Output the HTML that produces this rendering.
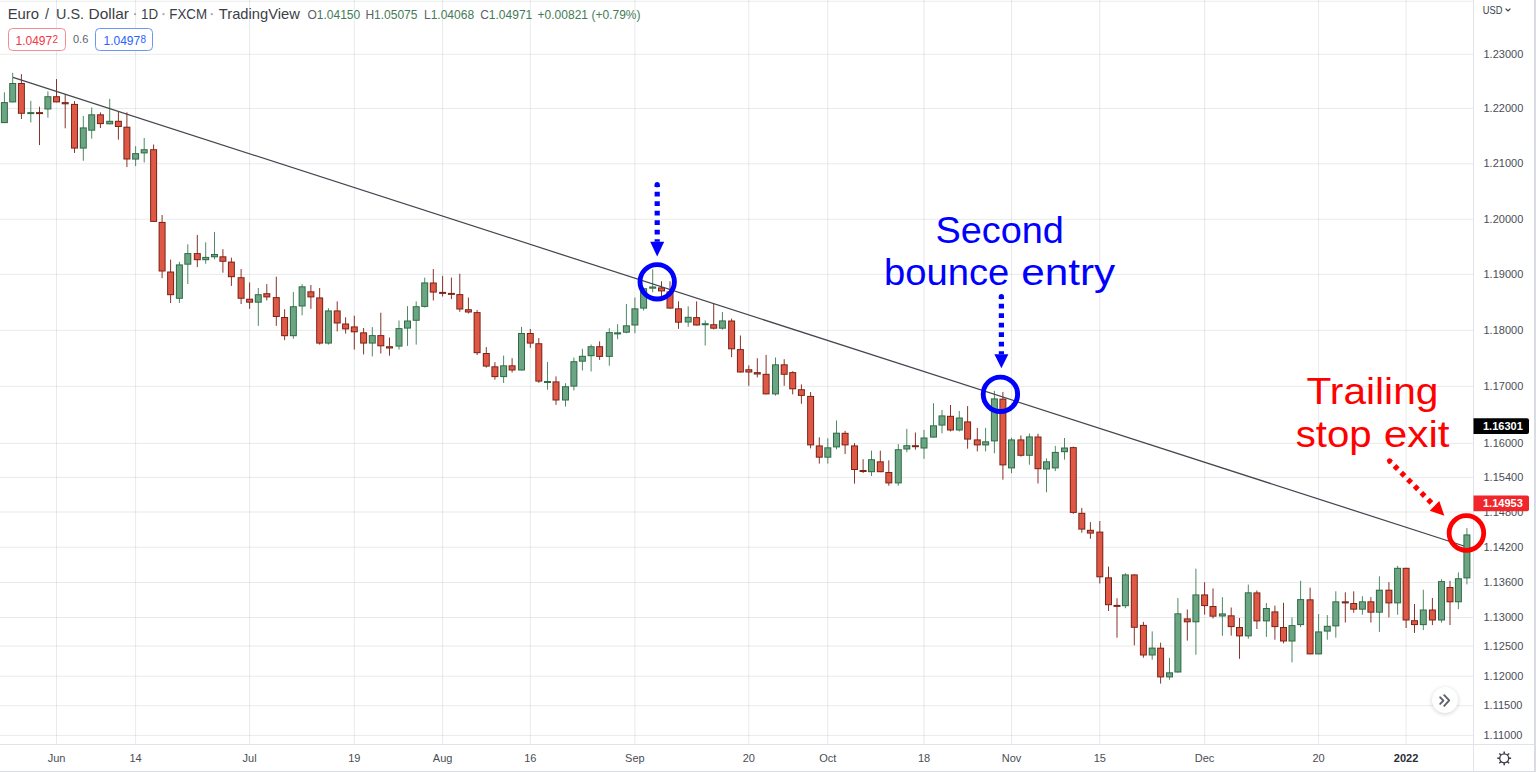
<!DOCTYPE html>
<html><head><meta charset="utf-8"><style>
html,body{margin:0;padding:0;background:#fff;width:1536px;height:772px;overflow:hidden;}
svg{position:absolute;left:0;top:0;}
.ax{font-family:"Liberation Sans",sans-serif;font-size:11px;fill:#4a4d55;}
.b{font-weight:bold;fill:#2a2e39;}
.pl{fill:#fff;font-weight:bold;}
.ttl{font-family:"Liberation Sans",sans-serif;font-size:14.4px;fill:#3b3e46;}
.ann{font-family:"Liberation Sans",sans-serif;font-size:36px;}
.ohlc{top:7.5px;font-size:12px;color:#447a58;}
.hdr{position:absolute;font-family:"Liberation Sans",sans-serif;white-space:nowrap;}
</style></head><body>
<svg width="1536" height="772" viewBox="0 0 1536 772">
<rect x="0" y="0.80" width="1473" height="1" fill="#2a2d3c" fill-opacity="0.1"/>
<rect x="0" y="53.80" width="1473" height="1" fill="#2a2d3c" fill-opacity="0.1"/>
<rect x="0" y="108.00" width="1473" height="1" fill="#2a2d3c" fill-opacity="0.1"/>
<rect x="0" y="163.30" width="1473" height="1" fill="#2a2d3c" fill-opacity="0.1"/>
<rect x="0" y="218.80" width="1473" height="1" fill="#2a2d3c" fill-opacity="0.1"/>
<rect x="0" y="273.90" width="1473" height="1" fill="#2a2d3c" fill-opacity="0.1"/>
<rect x="0" y="329.90" width="1473" height="1" fill="#2a2d3c" fill-opacity="0.1"/>
<rect x="0" y="385.90" width="1473" height="1" fill="#2a2d3c" fill-opacity="0.1"/>
<rect x="0" y="442.90" width="1473" height="1" fill="#2a2d3c" fill-opacity="0.1"/>
<rect x="0" y="476.90" width="1473" height="1" fill="#2a2d3c" fill-opacity="0.1"/>
<rect x="0" y="511.50" width="1473" height="1" fill="#2a2d3c" fill-opacity="0.1"/>
<rect x="0" y="546.70" width="1473" height="1" fill="#2a2d3c" fill-opacity="0.1"/>
<rect x="0" y="582.00" width="1473" height="1" fill="#2a2d3c" fill-opacity="0.1"/>
<rect x="0" y="617.00" width="1473" height="1" fill="#2a2d3c" fill-opacity="0.1"/>
<rect x="0" y="645.50" width="1473" height="1" fill="#2a2d3c" fill-opacity="0.1"/>
<rect x="0" y="675.70" width="1473" height="1" fill="#2a2d3c" fill-opacity="0.1"/>
<rect x="0" y="705.20" width="1473" height="1" fill="#2a2d3c" fill-opacity="0.1"/>
<rect x="0" y="734.90" width="1473" height="1" fill="#2a2d3c" fill-opacity="0.1"/>
<rect x="56.00" y="0" width="1" height="744" fill="#2a2d3c" fill-opacity="0.1"/>
<rect x="135.10" y="0" width="1" height="744" fill="#2a2d3c" fill-opacity="0.1"/>
<rect x="249.10" y="0" width="1" height="744" fill="#2a2d3c" fill-opacity="0.1"/>
<rect x="353.80" y="0" width="1" height="744" fill="#2a2d3c" fill-opacity="0.1"/>
<rect x="442.10" y="0" width="1" height="744" fill="#2a2d3c" fill-opacity="0.1"/>
<rect x="529.80" y="0" width="1" height="744" fill="#2a2d3c" fill-opacity="0.1"/>
<rect x="634.40" y="0" width="1" height="744" fill="#2a2d3c" fill-opacity="0.1"/>
<rect x="748.30" y="0" width="1" height="744" fill="#2a2d3c" fill-opacity="0.1"/>
<rect x="827.30" y="0" width="1" height="744" fill="#2a2d3c" fill-opacity="0.1"/>
<rect x="923.50" y="0" width="1" height="744" fill="#2a2d3c" fill-opacity="0.1"/>
<rect x="1011.00" y="0" width="1" height="744" fill="#2a2d3c" fill-opacity="0.1"/>
<rect x="1099.30" y="0" width="1" height="744" fill="#2a2d3c" fill-opacity="0.1"/>
<rect x="1204.10" y="0" width="1" height="744" fill="#2a2d3c" fill-opacity="0.1"/>
<rect x="1318.10" y="0" width="1" height="744" fill="#2a2d3c" fill-opacity="0.1"/>
<rect x="1405.60" y="0" width="1" height="744" fill="#2a2d3c" fill-opacity="0.1"/>
<rect x="1473" y="0" width="1" height="772" fill="#e0e3eb"/>
<rect x="0" y="744" width="1536" height="1" fill="#e0e3eb"/>
<rect x="1534" y="0" width="2" height="772" fill="#d9dce3"/>
<rect x="0" y="771" width="1536" height="1" fill="#d9dce3"/>
<rect x="3.90" y="92.30" width="1" height="30.80" fill="#4f8a63"/><rect x="0.90" y="102.10" width="7" height="21.00" fill="#2f6b45"/><rect x="1.90" y="103.10" width="5" height="19.00" fill="#6ba583"/>
<rect x="12.20" y="72.80" width="1" height="29.60" fill="#4f8a63"/><rect x="9.20" y="83.00" width="7" height="19.40" fill="#2f6b45"/><rect x="10.20" y="84.00" width="5" height="17.40" fill="#6ba583"/>
<rect x="20.90" y="74.10" width="1" height="44.90" fill="#86352a"/><rect x="17.90" y="83.00" width="7" height="30.80" fill="#7a2417"/><rect x="18.90" y="84.00" width="5" height="28.80" fill="#df5745"/>
<rect x="30.30" y="100.80" width="1" height="21.70" fill="#4f8a63"/><rect x="27.30" y="112.10" width="7" height="2.00" fill="#2f6b45"/>
<rect x="39.00" y="106.70" width="1" height="38.40" fill="#86352a"/><rect x="36.00" y="112.10" width="7" height="2.00" fill="#7a2417"/>
<rect x="47.40" y="91.40" width="1" height="26.30" fill="#4f8a63"/><rect x="44.40" y="96.20" width="7" height="13.30" fill="#2f6b45"/><rect x="45.40" y="97.20" width="5" height="11.30" fill="#6ba583"/>
<rect x="56.00" y="79.10" width="1" height="23.30" fill="#86352a"/><rect x="53.00" y="96.20" width="7" height="6.20" fill="#7a2417"/><rect x="54.00" y="97.20" width="5" height="4.20" fill="#df5745"/>
<rect x="64.70" y="94.00" width="1" height="34.30" fill="#86352a"/><rect x="61.70" y="102.10" width="7" height="2.20" fill="#7a2417"/><rect x="62.70" y="103.10" width="5" height="0.20" fill="#df5745"/>
<rect x="74.00" y="101.10" width="1" height="51.80" fill="#86352a"/><rect x="71.00" y="103.90" width="7" height="44.70" fill="#7a2417"/><rect x="72.00" y="104.90" width="5" height="42.70" fill="#df5745"/>
<rect x="82.80" y="116.00" width="1" height="44.70" fill="#4f8a63"/><rect x="79.80" y="127.40" width="7" height="21.20" fill="#2f6b45"/><rect x="80.80" y="128.40" width="5" height="19.20" fill="#6ba583"/>
<rect x="91.20" y="107.50" width="1" height="31.20" fill="#4f8a63"/><rect x="88.20" y="114.30" width="7" height="16.40" fill="#2f6b45"/><rect x="89.20" y="115.30" width="5" height="14.40" fill="#6ba583"/>
<rect x="99.90" y="112.40" width="1" height="15.60" fill="#86352a"/><rect x="96.90" y="114.30" width="7" height="9.80" fill="#7a2417"/><rect x="97.90" y="115.30" width="5" height="7.80" fill="#df5745"/>
<rect x="109.20" y="98.90" width="1" height="25.40" fill="#4f8a63"/><rect x="106.20" y="120.80" width="7" height="3.50" fill="#2f6b45"/><rect x="107.20" y="121.80" width="5" height="1.50" fill="#6ba583"/>
<rect x="117.90" y="111.50" width="1" height="28.20" fill="#86352a"/><rect x="114.90" y="120.80" width="7" height="6.20" fill="#7a2417"/><rect x="115.90" y="121.80" width="5" height="4.20" fill="#df5745"/>
<rect x="126.40" y="112.40" width="1" height="54.70" fill="#86352a"/><rect x="123.40" y="126.70" width="7" height="32.80" fill="#7a2417"/><rect x="124.40" y="127.70" width="5" height="30.80" fill="#df5745"/>
<rect x="135.10" y="146.20" width="1" height="19.90" fill="#4f8a63"/><rect x="132.10" y="153.10" width="7" height="6.50" fill="#2f6b45"/><rect x="133.10" y="154.10" width="5" height="4.50" fill="#6ba583"/>
<rect x="143.70" y="138.00" width="1" height="24.50" fill="#4f8a63"/><rect x="140.70" y="149.20" width="7" height="4.20" fill="#2f6b45"/><rect x="141.70" y="150.20" width="5" height="2.20" fill="#6ba583"/>
<rect x="153.10" y="144.50" width="1" height="77.40" fill="#86352a"/><rect x="150.10" y="149.20" width="7" height="72.70" fill="#7a2417"/><rect x="151.10" y="150.20" width="5" height="70.70" fill="#df5745"/>
<rect x="161.60" y="215.00" width="1" height="63.20" fill="#86352a"/><rect x="158.60" y="221.90" width="7" height="49.60" fill="#7a2417"/><rect x="159.60" y="222.90" width="5" height="47.60" fill="#df5745"/>
<rect x="170.10" y="259.60" width="1" height="43.40" fill="#86352a"/><rect x="167.10" y="271.50" width="7" height="23.70" fill="#7a2417"/><rect x="168.10" y="272.50" width="5" height="21.70" fill="#df5745"/>
<rect x="178.90" y="261.80" width="1" height="41.20" fill="#4f8a63"/><rect x="175.90" y="264.40" width="7" height="34.40" fill="#2f6b45"/><rect x="176.90" y="265.40" width="5" height="32.40" fill="#6ba583"/>
<rect x="187.30" y="244.30" width="1" height="39.70" fill="#4f8a63"/><rect x="184.30" y="253.10" width="7" height="11.60" fill="#2f6b45"/><rect x="185.30" y="254.10" width="5" height="9.60" fill="#6ba583"/>
<rect x="196.80" y="234.90" width="1" height="32.20" fill="#86352a"/><rect x="193.80" y="253.10" width="7" height="7.10" fill="#7a2417"/><rect x="194.80" y="254.10" width="5" height="5.10" fill="#df5745"/>
<rect x="205.20" y="242.30" width="1" height="21.50" fill="#4f8a63"/><rect x="202.20" y="256.90" width="7" height="3.30" fill="#2f6b45"/><rect x="203.20" y="257.90" width="5" height="1.30" fill="#6ba583"/>
<rect x="214.00" y="231.90" width="1" height="27.30" fill="#4f8a63"/><rect x="211.00" y="254.00" width="7" height="3.30" fill="#2f6b45"/><rect x="212.00" y="255.00" width="5" height="1.30" fill="#6ba583"/>
<rect x="222.40" y="249.20" width="1" height="23.50" fill="#86352a"/><rect x="219.40" y="256.30" width="7" height="5.50" fill="#7a2417"/><rect x="220.40" y="257.30" width="5" height="3.50" fill="#df5745"/>
<rect x="230.90" y="257.70" width="1" height="28.20" fill="#86352a"/><rect x="227.90" y="261.60" width="7" height="15.60" fill="#7a2417"/><rect x="228.90" y="262.60" width="5" height="13.60" fill="#df5745"/>
<rect x="240.60" y="269.00" width="1" height="35.00" fill="#86352a"/><rect x="237.60" y="277.20" width="7" height="21.60" fill="#7a2417"/><rect x="238.60" y="278.20" width="5" height="19.60" fill="#df5745"/>
<rect x="249.10" y="282.40" width="1" height="26.40" fill="#86352a"/><rect x="246.10" y="298.70" width="7" height="4.00" fill="#7a2417"/><rect x="247.10" y="299.70" width="5" height="2.00" fill="#df5745"/>
<rect x="257.80" y="288.00" width="1" height="37.80" fill="#4f8a63"/><rect x="254.80" y="294.20" width="7" height="8.50" fill="#2f6b45"/><rect x="255.80" y="295.20" width="5" height="6.50" fill="#6ba583"/>
<rect x="266.30" y="284.10" width="1" height="16.30" fill="#86352a"/><rect x="263.30" y="293.20" width="7" height="4.20" fill="#7a2417"/><rect x="264.30" y="294.20" width="5" height="2.20" fill="#df5745"/>
<rect x="275.80" y="276.70" width="1" height="49.10" fill="#86352a"/><rect x="272.80" y="297.10" width="7" height="19.90" fill="#7a2417"/><rect x="273.80" y="298.10" width="5" height="17.90" fill="#df5745"/>
<rect x="284.10" y="309.20" width="1" height="30.90" fill="#86352a"/><rect x="281.10" y="317.00" width="7" height="19.20" fill="#7a2417"/><rect x="282.10" y="318.00" width="5" height="17.20" fill="#df5745"/>
<rect x="292.86" y="291.90" width="1" height="46.90" fill="#4f8a63"/><rect x="289.86" y="306.20" width="7" height="30.00" fill="#2f6b45"/><rect x="290.86" y="307.20" width="5" height="28.00" fill="#6ba583"/>
<rect x="301.62" y="284.10" width="1" height="31.20" fill="#4f8a63"/><rect x="298.62" y="286.30" width="7" height="20.20" fill="#2f6b45"/><rect x="299.62" y="287.30" width="5" height="18.20" fill="#6ba583"/>
<rect x="310.39" y="285.00" width="1" height="23.80" fill="#86352a"/><rect x="307.39" y="291.30" width="7" height="6.10" fill="#7a2417"/><rect x="308.39" y="292.30" width="5" height="4.10" fill="#df5745"/>
<rect x="319.15" y="288.00" width="1" height="56.60" fill="#86352a"/><rect x="316.15" y="297.40" width="7" height="46.20" fill="#7a2417"/><rect x="317.15" y="298.40" width="5" height="44.20" fill="#df5745"/>
<rect x="327.91" y="308.20" width="1" height="36.40" fill="#4f8a63"/><rect x="324.91" y="310.40" width="7" height="33.20" fill="#2f6b45"/><rect x="325.91" y="311.40" width="5" height="31.20" fill="#6ba583"/>
<rect x="336.70" y="301.40" width="1" height="30.00" fill="#86352a"/><rect x="333.70" y="310.40" width="7" height="13.10" fill="#7a2417"/><rect x="334.70" y="311.40" width="5" height="11.10" fill="#df5745"/>
<rect x="345.10" y="317.30" width="1" height="16.30" fill="#86352a"/><rect x="342.10" y="323.50" width="7" height="5.90" fill="#7a2417"/><rect x="343.10" y="324.50" width="5" height="3.90" fill="#df5745"/>
<rect x="353.80" y="315.70" width="1" height="33.90" fill="#86352a"/><rect x="350.80" y="326.40" width="7" height="5.90" fill="#7a2417"/><rect x="351.80" y="327.40" width="5" height="3.90" fill="#df5745"/>
<rect x="363.10" y="328.00" width="1" height="26.40" fill="#86352a"/><rect x="360.10" y="332.30" width="7" height="11.30" fill="#7a2417"/><rect x="361.10" y="333.30" width="5" height="9.30" fill="#df5745"/>
<rect x="371.80" y="327.10" width="1" height="29.30" fill="#4f8a63"/><rect x="368.80" y="335.10" width="7" height="8.50" fill="#2f6b45"/><rect x="369.80" y="336.10" width="5" height="6.50" fill="#6ba583"/>
<rect x="380.30" y="312.70" width="1" height="40.80" fill="#86352a"/><rect x="377.30" y="335.10" width="7" height="11.20" fill="#7a2417"/><rect x="378.30" y="336.10" width="5" height="9.20" fill="#df5745"/>
<rect x="389.00" y="337.50" width="1" height="18.20" fill="#86352a"/><rect x="386.00" y="346.20" width="7" height="2.30" fill="#7a2417"/><rect x="387.00" y="347.20" width="5" height="0.30" fill="#df5745"/>
<rect x="398.50" y="320.50" width="1" height="29.10" fill="#4f8a63"/><rect x="395.50" y="328.10" width="7" height="18.50" fill="#2f6b45"/><rect x="396.50" y="329.10" width="5" height="16.50" fill="#6ba583"/>
<rect x="407.00" y="306.20" width="1" height="39.70" fill="#4f8a63"/><rect x="404.00" y="320.50" width="7" height="8.10" fill="#2f6b45"/><rect x="405.00" y="321.50" width="5" height="6.10" fill="#6ba583"/>
<rect x="415.70" y="301.40" width="1" height="43.20" fill="#4f8a63"/><rect x="412.70" y="306.20" width="7" height="14.60" fill="#2f6b45"/><rect x="413.70" y="307.20" width="5" height="12.60" fill="#6ba583"/>
<rect x="424.20" y="277.60" width="1" height="29.90" fill="#4f8a63"/><rect x="421.20" y="282.40" width="7" height="24.50" fill="#2f6b45"/><rect x="422.20" y="283.40" width="5" height="22.50" fill="#6ba583"/>
<rect x="432.80" y="269.10" width="1" height="31.30" fill="#86352a"/><rect x="429.80" y="282.50" width="7" height="10.10" fill="#7a2417"/><rect x="430.80" y="283.50" width="5" height="8.10" fill="#df5745"/>
<rect x="442.10" y="275.90" width="1" height="20.60" fill="#86352a"/><rect x="439.10" y="291.90" width="7" height="2.00" fill="#7a2417"/>
<rect x="450.90" y="277.60" width="1" height="21.50" fill="#86352a"/><rect x="447.90" y="292.90" width="7" height="2.00" fill="#7a2417"/>
<rect x="459.30" y="273.70" width="1" height="38.10" fill="#86352a"/><rect x="456.30" y="294.10" width="7" height="15.40" fill="#7a2417"/><rect x="457.30" y="295.10" width="5" height="13.40" fill="#df5745"/>
<rect x="467.90" y="297.50" width="1" height="16.00" fill="#86352a"/><rect x="464.90" y="309.20" width="7" height="3.30" fill="#7a2417"/><rect x="465.90" y="310.20" width="5" height="1.30" fill="#df5745"/>
<rect x="476.60" y="310.10" width="1" height="44.90" fill="#86352a"/><rect x="473.60" y="312.10" width="7" height="41.10" fill="#7a2417"/><rect x="474.60" y="313.10" width="5" height="39.10" fill="#df5745"/>
<rect x="485.80" y="347.10" width="1" height="20.50" fill="#86352a"/><rect x="482.80" y="353.00" width="7" height="13.60" fill="#7a2417"/><rect x="483.80" y="354.00" width="5" height="11.60" fill="#df5745"/>
<rect x="494.40" y="362.10" width="1" height="17.60" fill="#86352a"/><rect x="491.40" y="366.30" width="7" height="10.80" fill="#7a2417"/><rect x="492.40" y="367.30" width="5" height="8.80" fill="#df5745"/>
<rect x="503.10" y="355.60" width="1" height="27.30" fill="#4f8a63"/><rect x="500.10" y="365.30" width="7" height="11.80" fill="#2f6b45"/><rect x="501.10" y="366.30" width="5" height="9.80" fill="#6ba583"/>
<rect x="511.60" y="358.20" width="1" height="14.30" fill="#86352a"/><rect x="508.60" y="365.30" width="7" height="5.20" fill="#7a2417"/><rect x="509.60" y="366.30" width="5" height="3.20" fill="#df5745"/>
<rect x="521.00" y="326.90" width="1" height="43.60" fill="#4f8a63"/><rect x="518.00" y="333.00" width="7" height="37.50" fill="#2f6b45"/><rect x="519.00" y="334.00" width="5" height="35.50" fill="#6ba583"/>
<rect x="529.80" y="328.90" width="1" height="18.90" fill="#86352a"/><rect x="526.80" y="333.00" width="7" height="10.60" fill="#7a2417"/><rect x="527.80" y="334.00" width="5" height="8.60" fill="#df5745"/>
<rect x="538.30" y="338.00" width="1" height="44.90" fill="#86352a"/><rect x="535.30" y="343.20" width="7" height="38.40" fill="#7a2417"/><rect x="536.30" y="344.20" width="5" height="36.40" fill="#df5745"/>
<rect x="547.00" y="362.10" width="1" height="27.60" fill="#4f8a63"/><rect x="544.00" y="381.00" width="7" height="2.00" fill="#2f6b45"/>
<rect x="555.50" y="376.40" width="1" height="28.40" fill="#86352a"/><rect x="552.50" y="381.40" width="7" height="19.10" fill="#7a2417"/><rect x="553.50" y="382.40" width="5" height="17.10" fill="#df5745"/>
<rect x="565.00" y="383.20" width="1" height="23.40" fill="#4f8a63"/><rect x="562.00" y="386.20" width="7" height="14.30" fill="#2f6b45"/><rect x="563.00" y="387.20" width="5" height="12.30" fill="#6ba583"/>
<rect x="573.40" y="357.50" width="1" height="33.00" fill="#4f8a63"/><rect x="570.40" y="361.20" width="7" height="25.40" fill="#2f6b45"/><rect x="571.40" y="362.20" width="5" height="23.40" fill="#6ba583"/>
<rect x="581.90" y="348.80" width="1" height="21.70" fill="#4f8a63"/><rect x="578.90" y="355.80" width="7" height="5.90" fill="#2f6b45"/><rect x="579.90" y="356.80" width="5" height="3.90" fill="#6ba583"/>
<rect x="590.60" y="344.50" width="1" height="27.00" fill="#4f8a63"/><rect x="587.60" y="346.20" width="7" height="10.00" fill="#2f6b45"/><rect x="588.60" y="347.20" width="5" height="8.00" fill="#6ba583"/>
<rect x="599.10" y="341.30" width="1" height="18.60" fill="#86352a"/><rect x="596.10" y="346.20" width="7" height="10.70" fill="#7a2417"/><rect x="597.10" y="347.20" width="5" height="8.70" fill="#df5745"/>
<rect x="608.80" y="328.20" width="1" height="37.50" fill="#4f8a63"/><rect x="605.80" y="332.10" width="7" height="24.80" fill="#2f6b45"/><rect x="606.80" y="333.10" width="5" height="22.80" fill="#6ba583"/>
<rect x="617.10" y="324.20" width="1" height="15.00" fill="#4f8a63"/><rect x="614.10" y="332.30" width="7" height="2.10" fill="#2f6b45"/><rect x="615.10" y="333.30" width="5" height="0.10" fill="#6ba583"/>
<rect x="625.90" y="304.00" width="1" height="29.30" fill="#4f8a63"/><rect x="622.90" y="325.30" width="7" height="7.40" fill="#2f6b45"/><rect x="623.90" y="326.30" width="5" height="5.40" fill="#6ba583"/>
<rect x="634.40" y="297.50" width="1" height="35.80" fill="#4f8a63"/><rect x="631.40" y="308.30" width="7" height="17.20" fill="#2f6b45"/><rect x="632.40" y="309.30" width="5" height="15.20" fill="#6ba583"/>
<rect x="643.10" y="287.80" width="1" height="22.70" fill="#4f8a63"/><rect x="640.10" y="288.20" width="7" height="20.40" fill="#2f6b45"/><rect x="641.10" y="289.20" width="5" height="18.40" fill="#6ba583"/>
<rect x="652.20" y="269.30" width="1" height="23.00" fill="#4f8a63"/><rect x="649.20" y="286.50" width="7" height="2.20" fill="#2f6b45"/><rect x="650.20" y="287.50" width="5" height="0.20" fill="#6ba583"/>
<rect x="661.00" y="281.30" width="1" height="15.60" fill="#86352a"/><rect x="658.00" y="287.40" width="7" height="4.00" fill="#7a2417"/><rect x="659.00" y="288.40" width="5" height="2.00" fill="#df5745"/>
<rect x="669.50" y="281.30" width="1" height="27.30" fill="#86352a"/><rect x="666.50" y="291.40" width="7" height="17.20" fill="#7a2417"/><rect x="667.50" y="292.40" width="5" height="15.20" fill="#df5745"/>
<rect x="678.00" y="301.40" width="1" height="27.40" fill="#86352a"/><rect x="675.00" y="308.30" width="7" height="14.40" fill="#7a2417"/><rect x="676.00" y="309.30" width="5" height="12.40" fill="#df5745"/>
<rect x="687.70" y="306.30" width="1" height="20.50" fill="#4f8a63"/><rect x="684.70" y="316.80" width="7" height="5.70" fill="#2f6b45"/><rect x="685.70" y="317.80" width="5" height="3.70" fill="#6ba583"/>
<rect x="696.10" y="301.40" width="1" height="24.10" fill="#86352a"/><rect x="693.10" y="317.10" width="7" height="8.40" fill="#7a2417"/><rect x="694.10" y="318.10" width="5" height="6.40" fill="#df5745"/>
<rect x="704.70" y="320.40" width="1" height="25.10" fill="#4f8a63"/><rect x="701.70" y="323.20" width="7" height="2.00" fill="#2f6b45"/>
<rect x="713.20" y="303.40" width="1" height="26.00" fill="#86352a"/><rect x="710.20" y="324.20" width="7" height="4.50" fill="#7a2417"/><rect x="711.20" y="325.20" width="5" height="2.50" fill="#df5745"/>
<rect x="721.90" y="312.00" width="1" height="17.60" fill="#4f8a63"/><rect x="718.90" y="320.40" width="7" height="8.30" fill="#2f6b45"/><rect x="719.90" y="321.40" width="5" height="6.30" fill="#6ba583"/>
<rect x="731.10" y="318.60" width="1" height="38.50" fill="#86352a"/><rect x="728.10" y="320.50" width="7" height="28.80" fill="#7a2417"/><rect x="729.10" y="321.50" width="5" height="26.80" fill="#df5745"/>
<rect x="739.90" y="335.50" width="1" height="37.00" fill="#86352a"/><rect x="736.90" y="349.10" width="7" height="23.40" fill="#7a2417"/><rect x="737.90" y="350.10" width="5" height="21.40" fill="#df5745"/>
<rect x="748.30" y="365.30" width="1" height="20.50" fill="#86352a"/><rect x="745.30" y="369.20" width="7" height="3.30" fill="#7a2417"/><rect x="746.30" y="370.20" width="5" height="1.30" fill="#df5745"/>
<rect x="756.80" y="358.20" width="1" height="19.20" fill="#86352a"/><rect x="753.80" y="372.10" width="7" height="2.40" fill="#7a2417"/><rect x="754.80" y="373.10" width="5" height="0.40" fill="#df5745"/>
<rect x="765.60" y="354.90" width="1" height="39.50" fill="#86352a"/><rect x="762.60" y="373.80" width="7" height="20.60" fill="#7a2417"/><rect x="763.60" y="374.80" width="5" height="18.60" fill="#df5745"/>
<rect x="775.00" y="357.50" width="1" height="38.20" fill="#4f8a63"/><rect x="772.00" y="364.30" width="7" height="30.10" fill="#2f6b45"/><rect x="773.00" y="365.30" width="5" height="28.10" fill="#6ba583"/>
<rect x="783.70" y="359.20" width="1" height="26.60" fill="#86352a"/><rect x="780.70" y="364.30" width="7" height="10.50" fill="#7a2417"/><rect x="781.70" y="365.30" width="5" height="8.50" fill="#df5745"/>
<rect x="792.20" y="371.20" width="1" height="23.20" fill="#86352a"/><rect x="789.20" y="372.10" width="7" height="17.20" fill="#7a2417"/><rect x="790.20" y="373.10" width="5" height="15.20" fill="#df5745"/>
<rect x="800.90" y="384.40" width="1" height="19.40" fill="#86352a"/><rect x="797.90" y="389.20" width="7" height="6.70" fill="#7a2417"/><rect x="798.90" y="390.20" width="5" height="4.70" fill="#df5745"/>
<rect x="810.10" y="392.00" width="1" height="56.40" fill="#86352a"/><rect x="807.10" y="395.90" width="7" height="49.50" fill="#7a2417"/><rect x="808.10" y="396.90" width="5" height="47.50" fill="#df5745"/>
<rect x="818.80" y="437.30" width="1" height="26.30" fill="#86352a"/><rect x="815.80" y="445.40" width="7" height="12.30" fill="#7a2417"/><rect x="816.80" y="446.40" width="5" height="10.30" fill="#df5745"/>
<rect x="827.30" y="438.30" width="1" height="25.30" fill="#4f8a63"/><rect x="824.30" y="447.30" width="7" height="10.40" fill="#2f6b45"/><rect x="825.30" y="448.30" width="5" height="8.40" fill="#6ba583"/>
<rect x="836.00" y="420.40" width="1" height="28.90" fill="#4f8a63"/><rect x="833.00" y="432.70" width="7" height="14.70" fill="#2f6b45"/><rect x="834.00" y="433.70" width="5" height="12.70" fill="#6ba583"/>
<rect x="844.60" y="430.80" width="1" height="23.30" fill="#86352a"/><rect x="841.60" y="432.80" width="7" height="12.60" fill="#7a2417"/><rect x="842.60" y="433.80" width="5" height="10.60" fill="#df5745"/>
<rect x="854.00" y="443.10" width="1" height="40.50" fill="#86352a"/><rect x="851.00" y="445.40" width="7" height="24.60" fill="#7a2417"/><rect x="852.00" y="446.40" width="5" height="22.60" fill="#df5745"/>
<rect x="862.60" y="459.20" width="1" height="13.80" fill="#86352a"/><rect x="859.60" y="470.00" width="7" height="2.00" fill="#7a2417"/>
<rect x="871.00" y="450.60" width="1" height="25.40" fill="#4f8a63"/><rect x="868.00" y="459.20" width="7" height="13.00" fill="#2f6b45"/><rect x="869.00" y="460.20" width="5" height="11.00" fill="#6ba583"/>
<rect x="879.80" y="450.60" width="1" height="21.60" fill="#86352a"/><rect x="876.80" y="461.30" width="7" height="10.90" fill="#7a2417"/><rect x="877.80" y="462.30" width="5" height="8.90" fill="#df5745"/>
<rect x="888.30" y="460.30" width="1" height="25.40" fill="#86352a"/><rect x="885.30" y="472.00" width="7" height="11.40" fill="#7a2417"/><rect x="886.30" y="473.00" width="5" height="9.40" fill="#df5745"/>
<rect x="897.80" y="444.10" width="1" height="41.60" fill="#4f8a63"/><rect x="894.80" y="449.20" width="7" height="34.20" fill="#2f6b45"/><rect x="895.80" y="450.20" width="5" height="32.20" fill="#6ba583"/>
<rect x="906.30" y="428.80" width="1" height="23.40" fill="#4f8a63"/><rect x="903.30" y="445.20" width="7" height="4.30" fill="#2f6b45"/><rect x="904.30" y="446.20" width="5" height="2.30" fill="#6ba583"/>
<rect x="914.90" y="432.50" width="1" height="17.10" fill="#86352a"/><rect x="911.90" y="445.20" width="7" height="2.00" fill="#7a2417"/>
<rect x="923.50" y="429.90" width="1" height="29.00" fill="#4f8a63"/><rect x="920.50" y="437.50" width="7" height="11.00" fill="#2f6b45"/><rect x="921.50" y="438.50" width="5" height="9.00" fill="#6ba583"/>
<rect x="933.00" y="403.20" width="1" height="34.40" fill="#4f8a63"/><rect x="930.00" y="425.30" width="7" height="12.30" fill="#2f6b45"/><rect x="931.00" y="426.30" width="5" height="10.30" fill="#6ba583"/>
<rect x="941.50" y="410.00" width="1" height="23.40" fill="#4f8a63"/><rect x="938.50" y="415.40" width="7" height="10.20" fill="#2f6b45"/><rect x="939.50" y="416.40" width="5" height="8.20" fill="#6ba583"/>
<rect x="950.00" y="405.00" width="1" height="26.40" fill="#86352a"/><rect x="947.00" y="415.80" width="7" height="14.70" fill="#7a2417"/><rect x="948.00" y="416.80" width="5" height="12.70" fill="#df5745"/>
<rect x="958.80" y="411.00" width="1" height="20.40" fill="#4f8a63"/><rect x="955.80" y="417.50" width="7" height="13.00" fill="#2f6b45"/><rect x="956.80" y="418.50" width="5" height="11.00" fill="#6ba583"/>
<rect x="967.10" y="406.10" width="1" height="42.60" fill="#86352a"/><rect x="964.10" y="421.40" width="7" height="18.20" fill="#7a2417"/><rect x="965.10" y="422.40" width="5" height="16.20" fill="#df5745"/>
<rect x="976.80" y="427.90" width="1" height="23.50" fill="#86352a"/><rect x="973.80" y="439.40" width="7" height="6.00" fill="#7a2417"/><rect x="974.80" y="440.40" width="5" height="4.00" fill="#df5745"/>
<rect x="985.10" y="427.90" width="1" height="23.50" fill="#4f8a63"/><rect x="982.10" y="441.30" width="7" height="4.10" fill="#2f6b45"/><rect x="983.10" y="442.30" width="5" height="2.10" fill="#6ba583"/>
<rect x="993.90" y="390.80" width="1" height="62.50" fill="#4f8a63"/><rect x="990.90" y="398.40" width="7" height="43.00" fill="#2f6b45"/><rect x="991.90" y="399.40" width="5" height="41.00" fill="#6ba583"/>
<rect x="1002.40" y="391.90" width="1" height="87.70" fill="#86352a"/><rect x="999.40" y="398.60" width="7" height="66.80" fill="#7a2417"/><rect x="1000.40" y="399.60" width="5" height="64.80" fill="#df5745"/>
<rect x="1011.00" y="437.70" width="1" height="35.50" fill="#4f8a63"/><rect x="1008.00" y="439.40" width="7" height="29.00" fill="#2f6b45"/><rect x="1009.00" y="440.40" width="5" height="27.00" fill="#6ba583"/>
<rect x="1020.40" y="435.40" width="1" height="21.20" fill="#86352a"/><rect x="1017.40" y="439.40" width="7" height="16.40" fill="#7a2417"/><rect x="1018.40" y="440.40" width="5" height="14.40" fill="#df5745"/>
<rect x="1028.90" y="433.50" width="1" height="31.20" fill="#4f8a63"/><rect x="1025.90" y="436.40" width="7" height="19.40" fill="#2f6b45"/><rect x="1026.90" y="437.40" width="5" height="17.40" fill="#6ba583"/>
<rect x="1037.50" y="433.70" width="1" height="49.80" fill="#86352a"/><rect x="1034.50" y="436.50" width="7" height="32.70" fill="#7a2417"/><rect x="1035.50" y="437.50" width="5" height="30.70" fill="#df5745"/>
<rect x="1046.00" y="458.40" width="1" height="33.90" fill="#4f8a63"/><rect x="1043.00" y="461.30" width="7" height="8.20" fill="#2f6b45"/><rect x="1044.00" y="462.30" width="5" height="6.20" fill="#6ba583"/>
<rect x="1054.80" y="445.90" width="1" height="25.20" fill="#4f8a63"/><rect x="1051.80" y="451.90" width="7" height="16.50" fill="#2f6b45"/><rect x="1052.80" y="452.90" width="5" height="14.50" fill="#6ba583"/>
<rect x="1064.00" y="438.00" width="1" height="21.60" fill="#4f8a63"/><rect x="1061.00" y="447.50" width="7" height="4.70" fill="#2f6b45"/><rect x="1062.00" y="448.50" width="5" height="2.70" fill="#6ba583"/>
<rect x="1072.80" y="446.60" width="1" height="67.20" fill="#86352a"/><rect x="1069.80" y="447.10" width="7" height="65.80" fill="#7a2417"/><rect x="1070.80" y="448.10" width="5" height="63.80" fill="#df5745"/>
<rect x="1081.30" y="507.90" width="1" height="24.80" fill="#86352a"/><rect x="1078.30" y="512.80" width="7" height="16.80" fill="#7a2417"/><rect x="1079.30" y="513.80" width="5" height="14.80" fill="#df5745"/>
<rect x="1089.90" y="522.10" width="1" height="16.60" fill="#86352a"/><rect x="1086.90" y="529.80" width="7" height="3.80" fill="#7a2417"/><rect x="1087.90" y="530.80" width="5" height="1.80" fill="#df5745"/>
<rect x="1099.30" y="521.00" width="1" height="62.50" fill="#86352a"/><rect x="1096.30" y="531.60" width="7" height="45.70" fill="#7a2417"/><rect x="1097.30" y="532.60" width="5" height="43.70" fill="#df5745"/>
<rect x="1108.00" y="566.60" width="1" height="44.40" fill="#86352a"/><rect x="1105.00" y="577.30" width="7" height="27.90" fill="#7a2417"/><rect x="1106.00" y="578.30" width="5" height="25.90" fill="#df5745"/>
<rect x="1116.50" y="598.20" width="1" height="39.50" fill="#86352a"/><rect x="1113.50" y="604.90" width="7" height="2.00" fill="#7a2417"/>
<rect x="1124.90" y="573.20" width="1" height="35.00" fill="#4f8a63"/><rect x="1121.90" y="574.40" width="7" height="31.80" fill="#2f6b45"/><rect x="1122.90" y="575.40" width="5" height="29.80" fill="#6ba583"/>
<rect x="1133.80" y="574.20" width="1" height="71.10" fill="#86352a"/><rect x="1130.80" y="574.40" width="7" height="53.40" fill="#7a2417"/><rect x="1131.80" y="575.40" width="5" height="51.40" fill="#df5745"/>
<rect x="1142.90" y="621.90" width="1" height="35.80" fill="#86352a"/><rect x="1139.90" y="624.90" width="7" height="30.60" fill="#7a2417"/><rect x="1140.90" y="625.90" width="5" height="28.60" fill="#df5745"/>
<rect x="1151.70" y="631.40" width="1" height="28.30" fill="#4f8a63"/><rect x="1148.70" y="647.60" width="7" height="7.90" fill="#2f6b45"/><rect x="1149.70" y="648.60" width="5" height="5.90" fill="#6ba583"/>
<rect x="1160.10" y="642.70" width="1" height="40.90" fill="#86352a"/><rect x="1157.10" y="647.70" width="7" height="29.70" fill="#7a2417"/><rect x="1158.10" y="648.70" width="5" height="27.70" fill="#df5745"/>
<rect x="1169.00" y="658.00" width="1" height="21.70" fill="#4f8a63"/><rect x="1166.00" y="672.30" width="7" height="5.10" fill="#2f6b45"/><rect x="1167.00" y="673.30" width="5" height="3.10" fill="#6ba583"/>
<rect x="1177.40" y="598.10" width="1" height="74.40" fill="#4f8a63"/><rect x="1174.40" y="613.30" width="7" height="59.20" fill="#2f6b45"/><rect x="1175.40" y="614.30" width="5" height="57.20" fill="#6ba583"/>
<rect x="1186.80" y="609.50" width="1" height="31.10" fill="#86352a"/><rect x="1183.80" y="618.40" width="7" height="3.90" fill="#7a2417"/><rect x="1184.80" y="619.40" width="5" height="1.90" fill="#df5745"/>
<rect x="1195.40" y="568.70" width="1" height="86.00" fill="#4f8a63"/><rect x="1192.40" y="594.40" width="7" height="27.90" fill="#2f6b45"/><rect x="1193.40" y="595.40" width="5" height="25.90" fill="#6ba583"/>
<rect x="1204.10" y="582.20" width="1" height="32.50" fill="#86352a"/><rect x="1201.10" y="594.40" width="7" height="11.70" fill="#7a2417"/><rect x="1202.10" y="595.40" width="5" height="9.70" fill="#df5745"/>
<rect x="1212.50" y="588.40" width="1" height="30.10" fill="#86352a"/><rect x="1209.50" y="606.00" width="7" height="10.70" fill="#7a2417"/><rect x="1210.50" y="607.00" width="5" height="8.70" fill="#df5745"/>
<rect x="1221.90" y="597.10" width="1" height="38.70" fill="#4f8a63"/><rect x="1218.90" y="613.40" width="7" height="3.10" fill="#2f6b45"/><rect x="1219.90" y="614.40" width="5" height="1.10" fill="#6ba583"/>
<rect x="1230.70" y="607.50" width="1" height="28.20" fill="#86352a"/><rect x="1227.70" y="615.30" width="7" height="11.80" fill="#7a2417"/><rect x="1228.70" y="616.30" width="5" height="9.80" fill="#df5745"/>
<rect x="1239.00" y="618.00" width="1" height="40.80" fill="#86352a"/><rect x="1236.00" y="627.00" width="7" height="9.40" fill="#7a2417"/><rect x="1237.00" y="628.00" width="5" height="7.40" fill="#df5745"/>
<rect x="1247.80" y="584.60" width="1" height="54.10" fill="#4f8a63"/><rect x="1244.80" y="592.30" width="7" height="44.10" fill="#2f6b45"/><rect x="1245.80" y="593.30" width="5" height="42.10" fill="#6ba583"/>
<rect x="1256.40" y="590.40" width="1" height="38.60" fill="#86352a"/><rect x="1253.40" y="592.40" width="7" height="29.00" fill="#7a2417"/><rect x="1254.40" y="593.40" width="5" height="27.00" fill="#df5745"/>
<rect x="1265.90" y="603.00" width="1" height="33.90" fill="#4f8a63"/><rect x="1262.90" y="608.00" width="7" height="13.40" fill="#2f6b45"/><rect x="1263.90" y="609.00" width="5" height="11.40" fill="#6ba583"/>
<rect x="1274.40" y="605.60" width="1" height="34.10" fill="#86352a"/><rect x="1271.40" y="611.40" width="7" height="15.70" fill="#7a2417"/><rect x="1272.40" y="612.40" width="5" height="13.70" fill="#df5745"/>
<rect x="1283.00" y="602.80" width="1" height="40.50" fill="#86352a"/><rect x="1280.00" y="627.00" width="7" height="14.50" fill="#7a2417"/><rect x="1281.00" y="628.00" width="5" height="12.50" fill="#df5745"/>
<rect x="1291.50" y="617.30" width="1" height="45.00" fill="#4f8a63"/><rect x="1288.50" y="625.10" width="7" height="16.40" fill="#2f6b45"/><rect x="1289.50" y="626.10" width="5" height="14.40" fill="#6ba583"/>
<rect x="1300.10" y="580.80" width="1" height="46.30" fill="#4f8a63"/><rect x="1297.10" y="599.10" width="7" height="26.00" fill="#2f6b45"/><rect x="1298.10" y="600.10" width="5" height="24.00" fill="#6ba583"/>
<rect x="1309.60" y="587.60" width="1" height="66.80" fill="#86352a"/><rect x="1306.60" y="599.30" width="7" height="55.10" fill="#7a2417"/><rect x="1307.60" y="600.30" width="5" height="53.10" fill="#df5745"/>
<rect x="1318.10" y="614.00" width="1" height="40.40" fill="#4f8a63"/><rect x="1315.10" y="631.40" width="7" height="23.00" fill="#2f6b45"/><rect x="1316.10" y="632.40" width="5" height="21.00" fill="#6ba583"/>
<rect x="1326.80" y="615.10" width="1" height="24.60" fill="#4f8a63"/><rect x="1323.80" y="625.80" width="7" height="5.80" fill="#2f6b45"/><rect x="1324.80" y="626.80" width="5" height="3.80" fill="#6ba583"/>
<rect x="1335.30" y="591.30" width="1" height="46.40" fill="#4f8a63"/><rect x="1332.30" y="601.30" width="7" height="25.10" fill="#2f6b45"/><rect x="1333.30" y="602.30" width="5" height="23.10" fill="#6ba583"/>
<rect x="1344.80" y="592.30" width="1" height="30.20" fill="#86352a"/><rect x="1341.80" y="601.30" width="7" height="2.10" fill="#7a2417"/><rect x="1342.80" y="602.30" width="5" height="0.10" fill="#df5745"/>
<rect x="1353.20" y="591.30" width="1" height="21.40" fill="#86352a"/><rect x="1350.20" y="603.00" width="7" height="6.70" fill="#7a2417"/><rect x="1351.20" y="604.00" width="5" height="4.70" fill="#df5745"/>
<rect x="1361.90" y="596.20" width="1" height="18.50" fill="#4f8a63"/><rect x="1358.90" y="601.30" width="7" height="8.40" fill="#2f6b45"/><rect x="1359.90" y="602.30" width="5" height="6.40" fill="#6ba583"/>
<rect x="1370.40" y="597.10" width="1" height="25.40" fill="#86352a"/><rect x="1367.40" y="601.30" width="7" height="11.40" fill="#7a2417"/><rect x="1368.40" y="602.30" width="5" height="9.40" fill="#df5745"/>
<rect x="1378.90" y="576.30" width="1" height="55.60" fill="#4f8a63"/><rect x="1375.90" y="589.70" width="7" height="23.00" fill="#2f6b45"/><rect x="1376.90" y="590.70" width="5" height="21.00" fill="#6ba583"/>
<rect x="1388.40" y="582.10" width="1" height="35.20" fill="#86352a"/><rect x="1385.40" y="589.70" width="7" height="13.70" fill="#7a2417"/><rect x="1386.40" y="590.70" width="5" height="11.70" fill="#df5745"/>
<rect x="1397.10" y="565.90" width="1" height="48.80" fill="#4f8a63"/><rect x="1394.10" y="567.80" width="7" height="35.60" fill="#2f6b45"/><rect x="1395.10" y="568.80" width="5" height="33.60" fill="#6ba583"/>
<rect x="1405.60" y="567.80" width="1" height="60.20" fill="#86352a"/><rect x="1402.60" y="567.80" width="7" height="52.70" fill="#7a2417"/><rect x="1403.60" y="568.80" width="5" height="50.70" fill="#df5745"/>
<rect x="1414.00" y="604.00" width="1" height="28.90" fill="#86352a"/><rect x="1411.00" y="620.20" width="7" height="4.90" fill="#7a2417"/><rect x="1412.00" y="621.20" width="5" height="2.90" fill="#df5745"/>
<rect x="1422.80" y="589.70" width="1" height="40.40" fill="#4f8a63"/><rect x="1419.80" y="609.50" width="7" height="15.60" fill="#2f6b45"/><rect x="1420.80" y="610.50" width="5" height="13.60" fill="#6ba583"/>
<rect x="1431.90" y="598.00" width="1" height="27.10" fill="#86352a"/><rect x="1428.90" y="609.50" width="7" height="11.00" fill="#7a2417"/><rect x="1429.90" y="610.50" width="5" height="9.00" fill="#df5745"/>
<rect x="1441.00" y="579.30" width="1" height="43.20" fill="#4f8a63"/><rect x="1438.00" y="581.10" width="7" height="39.40" fill="#2f6b45"/><rect x="1439.00" y="582.10" width="5" height="37.40" fill="#6ba583"/>
<rect x="1449.50" y="580.80" width="1" height="44.30" fill="#86352a"/><rect x="1446.50" y="587.00" width="7" height="15.30" fill="#7a2417"/><rect x="1447.50" y="588.00" width="5" height="13.30" fill="#df5745"/>
<rect x="1457.90" y="572.40" width="1" height="36.80" fill="#4f8a63"/><rect x="1454.90" y="578.20" width="7" height="24.10" fill="#2f6b45"/><rect x="1455.90" y="579.20" width="5" height="22.10" fill="#6ba583"/>
<rect x="1466.40" y="528.10" width="1" height="56.30" fill="#4f8a63"/><rect x="1463.40" y="534.40" width="7" height="44.00" fill="#2f6b45"/><rect x="1464.40" y="535.40" width="5" height="42.00" fill="#6ba583"/>
<line x1="13" y1="77.3" x2="1464" y2="546.0" stroke="#44474f" stroke-width="1.25"/>
<text x="1483.5" y="57.9" class="ax">1.23000</text>
<text x="1483.5" y="112.1" class="ax">1.22000</text>
<text x="1483.5" y="167.4" class="ax">1.21000</text>
<text x="1483.5" y="222.9" class="ax">1.20000</text>
<text x="1483.5" y="278.0" class="ax">1.19000</text>
<text x="1483.5" y="334.0" class="ax">1.18000</text>
<text x="1483.5" y="390.0" class="ax">1.17000</text>
<text x="1483.5" y="447.0" class="ax">1.16000</text>
<text x="1483.5" y="481.0" class="ax">1.15400</text>
<text x="1483.5" y="515.6" class="ax">1.14800</text>
<text x="1483.5" y="550.8" class="ax">1.14200</text>
<text x="1483.5" y="586.1" class="ax">1.13600</text>
<text x="1483.5" y="621.1" class="ax">1.13000</text>
<text x="1483.5" y="649.6" class="ax">1.12500</text>
<text x="1483.5" y="679.8" class="ax">1.12000</text>
<text x="1483.5" y="709.3" class="ax">1.11500</text>
<text x="1483.5" y="739.0" class="ax">1.11000</text>
<text x="56.5" y="762" text-anchor="middle" class="ax">Jun</text>
<text x="135.6" y="762" text-anchor="middle" class="ax">14</text>
<text x="249.6" y="762" text-anchor="middle" class="ax">Jul</text>
<text x="354.3" y="762" text-anchor="middle" class="ax">19</text>
<text x="442.6" y="762" text-anchor="middle" class="ax">Aug</text>
<text x="530.3" y="762" text-anchor="middle" class="ax">16</text>
<text x="634.9" y="762" text-anchor="middle" class="ax">Sep</text>
<text x="748.8" y="762" text-anchor="middle" class="ax">20</text>
<text x="827.8" y="762" text-anchor="middle" class="ax">Oct</text>
<text x="924.0" y="762" text-anchor="middle" class="ax">18</text>
<text x="1011.5" y="762" text-anchor="middle" class="ax">Nov</text>
<text x="1099.8" y="762" text-anchor="middle" class="ax">15</text>
<text x="1204.6" y="762" text-anchor="middle" class="ax">Dec</text>
<text x="1318.6" y="762" text-anchor="middle" class="ax">20</text>
<text x="1406.1" y="762" text-anchor="middle" class="ax b">2022</text>
<text x="1482.8" y="14" class="ax" style="fill:#3a3d46" textLength="19.6" lengthAdjust="spacingAndGlyphs">USD</text>
<path d="M1505.6 8.6 L1508 11 L1510.4 8.6" stroke="#3a3d46" stroke-width="1.2" fill="none"/>
<path d="M1473.5 418.3 H1527 a2 2 0 0 1 2 2 V432 a2 2 0 0 1 -2 2 H1473.5 Z" fill="#000"/>
<text x="1483" y="430" class="ax pl">1.16301</text>
<path d="M1473.5 495.5 H1527 a2 2 0 0 1 2 2 V509.3 a2 2 0 0 1 -2 2 H1473.5 Z" fill="#f0262b"/>
<text x="1483" y="507.3" class="ax pl">1.14953</text>
<circle cx="657.2" cy="281.8" r="17.2" fill="none" stroke="#0000ff" stroke-width="4.9"/>
<circle cx="1000.4" cy="394.3" r="17.2" fill="none" stroke="#0000ff" stroke-width="4.9"/>
<circle cx="1466.4" cy="533" r="17.3" fill="none" stroke="#ff0000" stroke-width="4.8"/>
<line x1="657.2" y1="184.7" x2="657.2" y2="241.8" stroke="#0000ff" stroke-width="5.2" stroke-dasharray="4.8 4.7" stroke-dashoffset="2.5"/><circle cx="657.2" cy="184.7" r="2.6" fill="#0000ff"/><path d="M650.2 241.8 L664.2 241.8 L657.2 256.5 Z" fill="#0000ff"/>
<line x1="1001.4" y1="296.7" x2="1001.4" y2="354.3" stroke="#0000ff" stroke-width="5.2" stroke-dasharray="4.8 4.7" stroke-dashoffset="2.5"/><circle cx="1001.4" cy="296.7" r="2.6" fill="#0000ff"/><path d="M994.4 354.3 L1008.4 354.3 L1001.4 368.3 Z" fill="#0000ff"/>
<g transform="translate(1444.4,515.8) rotate(45)"><line x1="-77.6" y1="0" x2="-14" y2="0" stroke="#ff0000" stroke-width="5.2" stroke-dasharray="4.7 4.8" stroke-dashoffset="2.5"/><circle cx="-77.6" cy="0" r="2.6" fill="#ff0000"/><path d="M-14 -6.8 L-14 6.8 L0 0 Z" fill="#ff0000"/></g>
<text x="7.70" y="19" class="ttl" textLength="31.40" lengthAdjust="spacingAndGlyphs">Euro</text>
<text x="56.00" y="19" class="ttl" textLength="28.00" lengthAdjust="spacingAndGlyphs">U.S.</text>
<text x="88.60" y="19" class="ttl" textLength="40.40" lengthAdjust="spacingAndGlyphs">Dollar</text>
<text x="141.00" y="19" class="ttl" textLength="17.10" lengthAdjust="spacingAndGlyphs">1D</text>
<text x="169.30" y="19" class="ttl" textLength="37.70" lengthAdjust="spacingAndGlyphs">FXCM</text>
<text x="218.80" y="19" class="ttl" textLength="81.00" lengthAdjust="spacingAndGlyphs">TradingView</text>
<text x="45" y="19" class="ttl">/</text>
<circle cx="135.1" cy="14.2" r="1.1" fill="#a3a6af"/>
<circle cx="163.5" cy="14.2" r="1.1" fill="#a3a6af"/>
<circle cx="211.8" cy="14.2" r="1.1" fill="#a3a6af"/>
<text x="935.50" y="242.5" class="ann" fill="#0000ff" textLength="128.40" lengthAdjust="spacingAndGlyphs">Second</text>
<text x="884.00" y="285" class="ann" fill="#0000ff" textLength="125.30" lengthAdjust="spacingAndGlyphs">bounce</text>
<text x="1021.25" y="285" class="ann" fill="#0000ff" textLength="93.95" lengthAdjust="spacingAndGlyphs">entry</text>
<text x="1306.50" y="404.2" class="ann" fill="#ff0000" textLength="131.90" lengthAdjust="spacingAndGlyphs">Trailing</text>
<text x="1295.80" y="447" class="ann" fill="#ff0000" textLength="75.90" lengthAdjust="spacingAndGlyphs">stop</text>
<text x="1383.80" y="447" class="ann" fill="#ff0000" textLength="65.80" lengthAdjust="spacingAndGlyphs">exit</text>
</svg>

<div class="hdr ohlc" style="left:307.5px"><span style="color:#5d606b">O</span>1.04150</div><div class="hdr ohlc" style="left:365.4px"><span style="color:#5d606b">H</span>1.05075</div><div class="hdr ohlc" style="left:424.0px"><span style="color:#5d606b">L</span>1.04068</div><div class="hdr ohlc" style="left:480.2px"><span style="color:#5d606b">C</span>1.04971</div><div class="hdr ohlc" style="left:537.6px">+0.00821</div><div class="hdr ohlc" style="left:591.5px">(+0.79%)</div>
<div class="hdr" style="box-sizing:border-box;left:7.6px;top:28.4px;width:58.2px;height:22.6px;border:1.5px solid #f78a93;border-radius:4.5px;background:#fff;"></div>
<div class="hdr" style="left:15.5px;top:34px;font-size:12px;color:#f23645;">1.0497</div><div class="hdr" style="left:52.5px;top:33.5px;font-size:10px;color:#f23645;">2</div>
<div class="hdr" style="left:73px;top:33px;font-size:11px;color:#5d606b;">0.6</div>
<div class="hdr" style="box-sizing:border-box;left:95px;top:28.4px;width:57.8px;height:22.6px;border:1.5px solid #6a96f6;border-radius:4.5px;background:#fff;"></div>
<div class="hdr" style="left:103.5px;top:34px;font-size:12px;color:#2962ff;">1.0497</div><div class="hdr" style="left:140.5px;top:33.5px;font-size:10px;color:#2962ff;">8</div>
<div style="position:absolute;left:1431.6px;top:687.2px;width:26px;height:26px;border-radius:50%;background:#fff;box-shadow:0 1px 4px rgba(0,0,0,0.18);"></div>
<svg width="1536" height="772" style="pointer-events:none">
<path d="M1440.2 697.3 L1443.4 700.6 L1440.2 703.9 M1444.2 695.2 L1449.2 700.4 L1444.2 705.8" stroke="#5d606b" stroke-width="1.9" stroke-linecap="round" stroke-linejoin="round" fill="none"/>
<circle cx="1504.2" cy="758.3" r="4.5" fill="none" stroke="#3a3d46" stroke-width="1.35"/>
<path d="M1508.80 758.30 L1511.10 758.30 M1507.45 761.55 L1509.08 763.18 M1504.20 762.90 L1504.20 765.20 M1500.95 761.55 L1499.32 763.18 M1499.60 758.30 L1497.30 758.30 M1500.95 755.05 L1499.32 753.42 M1504.20 753.70 L1504.20 751.40 M1507.45 755.05 L1509.08 753.42 " stroke="#3a3d46" stroke-width="1.5"/>
</svg>
</body></html>
